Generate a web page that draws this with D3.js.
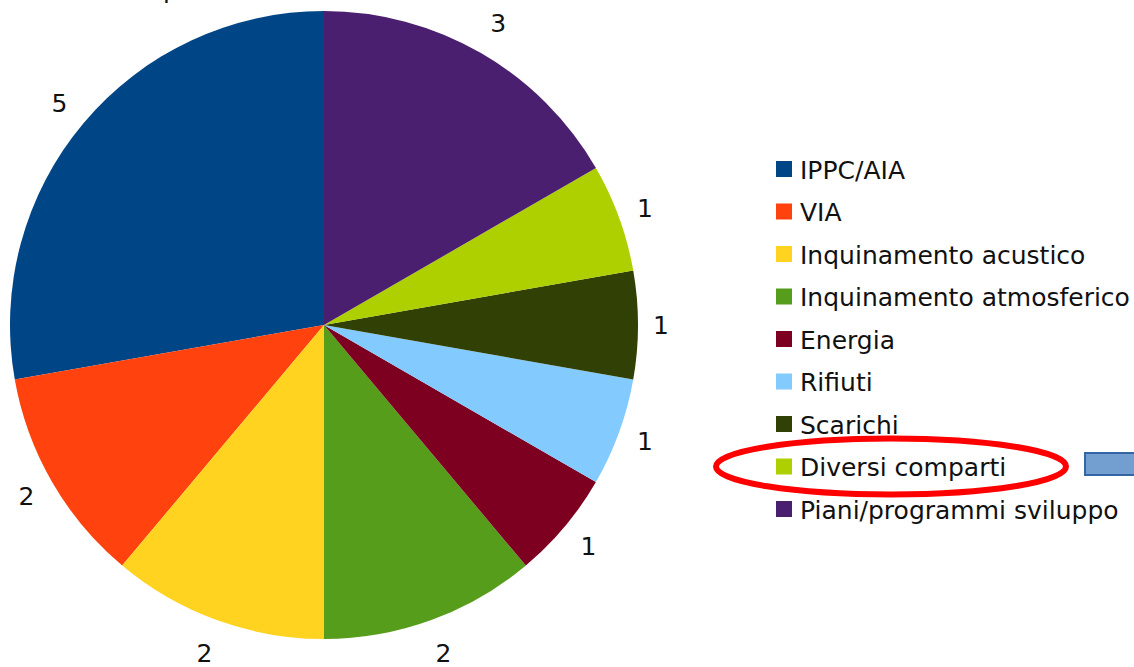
<!DOCTYPE html>
<html>
<head>
<meta charset="utf-8">
<script src="https://cdn.jsdelivr.net/npm/d3@7"></script>
<style>
  body { margin: 0; background: #fff; }
  text { font-family: "DejaVu Sans", "Liberation Sans", sans-serif; }
</style>
</head>
<body>
<div id="root"></div>
<script>
const categories = ["IPPC/AIA", "VIA", "Inquinamento acustico", "Inquinamento atmosferico",
  "Energia", "Rifiuti", "Scarichi", "Diversi comparti", "Piani/programmi sviluppo"];
const counts = [5, 2, 2, 2, 1, 1, 1, 1, 3];
const colors = ["#004586", "#ff420e", "#ffd320", "#579d1c", "#7e0021",
  "#83caff", "#314004", "#aecf00", "#4b1f6f"];

const width = 1134, height = 667;
const cx = 324, cy = 325, radius = 314;

const svg = d3.select("#root").append("svg")
  .attr("width", width)
  .attr("height", height);

// cut-off title descender at the top edge
svg.append("text")
  .attr("x", 163).attr("y", -2)
  .attr("font-size", 25)
  .attr("fill", "#111")
  .text("p");

const data = categories.map((c, i) => ({ name: c, value: counts[i], color: colors[i] }));

// slices go counter-clockwise from 12 o'clock
const pie = d3.pie().value(d => d.value).sort(null)
  .startAngle(0).endAngle(-2 * Math.PI);
const arcs = pie(data);
const arc = d3.arc().innerRadius(0).outerRadius(radius);

const g = svg.append("g").attr("transform", "translate(" + cx + "," + cy + ")");

g.selectAll("path")
  .data(arcs)
  .enter()
  .append("path")
  .attr("d", arc)
  .attr("fill", d => d.data.color);

// labels sit a bit further out where the text box points vertically
const labelPos = d => {
  const a = (d.startAngle + d.endAngle) / 2;
  const ux = Math.sin(a), uy = -Math.cos(a);
  const r = 337 + 13 * Math.abs(uy);
  return [ux * r, uy * r];
};

g.selectAll(".lbl")
  .data(arcs)
  .enter()
  .append("text")
  .attr("class", "lbl")
  .attr("x", d => labelPos(d)[0])
  .attr("y", d => labelPos(d)[1])
  .attr("text-anchor", "middle")
  .attr("dominant-baseline", "central")
  .attr("font-size", 25)
  .attr("fill", "#111")
  .text(d => d.data.value);

// legend
const legendY = d3.scalePoint().domain(categories).range([169, 509]);
const legend = svg.append("g");
const rows = legend.selectAll("g")
  .data(data)
  .enter()
  .append("g")
  .attr("transform", d => "translate(776," + legendY(d.name) + ")");

rows.append("rect")
  .attr("x", 0).attr("y", -8)
  .attr("width", 16).attr("height", 16)
  .attr("fill", d => d.color);

rows.append("text")
  .attr("x", 24).attr("y", 1)
  .attr("dominant-baseline", "central")
  .attr("font-size", 25)
  .attr("fill", "#111")
  .text(d => d.name);

// highlight ellipse around "Diversi comparti"
svg.append("ellipse")
  .attr("cx", 891).attr("cy", legendY("Diversi comparti"))
  .attr("rx", 175).attr("ry", 28)
  .attr("fill", "none")
  .attr("stroke", "#ff0000")
  .attr("stroke-width", 6);

// blue box at the right edge
svg.append("rect")
  .attr("x", 1085).attr("y", 453)
  .attr("width", 60).attr("height", 22)
  .attr("fill", "#729fcf")
  .attr("stroke", "#3465a4")
  .attr("stroke-width", 2);
</script>
</body>
</html>
